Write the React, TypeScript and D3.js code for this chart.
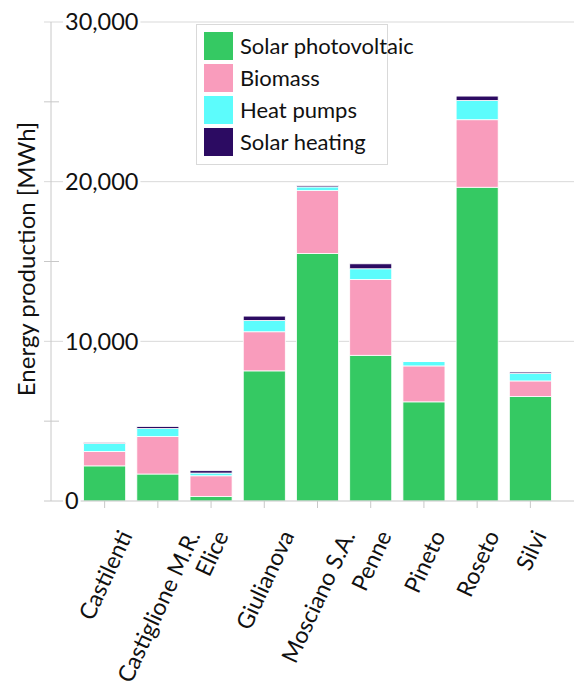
import * as d3 from "d3";
import React from "react";

const towns = [
  "Castilenti",
  "Castiglione M.R.",
  "Elice",
  "Giulianova",
  "Mosciano S.A.",
  "Penne",
  "Pineto",
  "Roseto",
  "Silvi",
];

const seriesNames = ["Solar photovoltaic", "Biomass", "Heat pumps", "Solar heating"];
const seriesColors = ["#35C963", "#F99CBC", "#5CFCFC", "#2C0B62"];

// MWh per town
const solarPv = [2200, 1690, 290, 8150, 15500, 9125, 6210, 19650, 6540];
const biomass = [900, 2350, 1290, 2450, 3940, 4750, 2250, 4230, 980];
const heatPumps = [500, 500, 170, 710, 230, 670, 270, 1210, 480];
const solarHeating = [70, 125, 150, 270, 80, 310, 30, 270, 80];

const majorTicks = [0, 10000, 20000, 30000];
const minorTicks = [5000, 15000, 25000];

const W = 574;
const H = 683;
const FONT = "Lato, 'Noto Sans', sans-serif";

const App = (): React.ReactElement => {
  const chartRef = React.useRef<SVGSVGElement>(null);

  React.useEffect(() => {
    const svg = d3.select(chartRef.current);
    svg.selectAll("*").remove();

    const left = 51;
    const right = W;
    const top = 22;
    const bottom = 501;

    const x = d3.scaleBand<string>().domain(towns).range([57, 578]).paddingInner(0.21).paddingOuter(0.5);
    const y = d3.scaleLinear().domain([0, 30000]).range([bottom, top]);

    const rows = towns.map((t, i) => ({
      town: t,
      "Solar photovoltaic": solarPv[i],
      Biomass: biomass[i],
      "Heat pumps": heatPumps[i],
      "Solar heating": solarHeating[i],
    }));
    const stacked = d3.stack<any>().keys(seriesNames)(rows);

    // gridlines
    svg
      .append("g")
      .selectAll("line")
      .data(majorTicks.slice(1))
      .join("line")
      .attr("x1", 44)
      .attr("x2", right)
      .attr("y1", (d) => y(d))
      .attr("y2", (d) => y(d))
      .attr("stroke", "#d9d9d9")
      .attr("stroke-width", 1);

    // y axis line + minor ticks
    svg.append("line").attr("x1", left).attr("x2", left).attr("y1", top).attr("y2", bottom).attr("stroke", "#c8c8c8");
    svg
      .append("g")
      .selectAll("line")
      .data(minorTicks)
      .join("line")
      .attr("x1", 44)
      .attr("x2", 59)
      .attr("y1", (d) => y(d))
      .attr("y2", (d) => y(d))
      .attr("stroke", "#c8c8c8");

    // bars
    svg
      .append("g")
      .selectAll("g")
      .data(stacked)
      .join("g")
      .attr("fill", (_, i) => seriesColors[i])
      .selectAll("rect")
      .data((d) => d)
      .join("rect")
      .attr("x", (d: any) => x(d.data.town) as number)
      .attr("width", x.bandwidth())
      .attr("y", (d) => y(d[1]))
      .attr("height", (d) => y(d[0]) - y(d[1]))
      .attr("stroke", "#fff")
      .attr("stroke-width", 0.8);

    // x axis
    svg.append("line").attr("x1", 44).attr("x2", right).attr("y1", bottom).attr("y2", bottom).attr("stroke", "#c8c8c8");
    svg
      .append("g")
      .selectAll("line")
      .data(towns)
      .join("line")
      .attr("x1", (d) => (x(d) as number) + x.bandwidth() / 2)
      .attr("x2", (d) => (x(d) as number) + x.bandwidth() / 2)
      .attr("y1", bottom)
      .attr("y2", bottom + 7)
      .attr("stroke", "#c8c8c8");

    // y tick labels with white boxes
    const yl = svg.append("g");
    majorTicks.forEach((v) => {
      const g = yl.append("g");
      const t = g
        .append("text")
        .attr("x", 65)
        .attr("y", y(v))
        .attr("dy", "0.36em")
        .attr("font-family", FONT)
        .attr("font-size", 23.5)
        .attr("fill", "#111")
        .text(d3.format(",")(v));
      const bb = (t.node() as SVGTextElement).getBBox();
      g.insert("rect", "text")
        .attr("x", bb.x - 2)
        .attr("y", bb.y + 2)
        .attr("width", bb.width + 4)
        .attr("height", bb.height - 4)
        .attr("fill", "#fff");
    });

    // x labels, rotated, bbox centred on tick with top at 528
    const ang = 65;
    const rad = (ang * Math.PI) / 180;
    const xl = svg.append("g");
    towns.forEach((t) => {
      const cx = (x(t) as number) + x.bandwidth() / 2;
      const txt = xl
        .append("text")
        .attr("text-anchor", "middle")
        .attr("dominant-baseline", "central")
        .attr("font-family", FONT)
        .attr("font-size", 23)
        .attr("fill", "#111")
        .text(t);
      const L = (txt.node() as SVGTextElement).getComputedTextLength();
      const h = 17;
      const cy = 528 + (L / 2) * Math.sin(rad) + (h / 2) * Math.cos(rad);
      txt.attr("transform", `translate(${cx},${cy}) rotate(${-ang})`);
    });

    // y title
    svg
      .append("text")
      .attr("transform", `translate(35,259) rotate(-90)`)
      .attr("text-anchor", "middle")
      .attr("font-family", FONT)
      .attr("font-size", 24)
      .attr("fill", "#111")
      .text("Energy production [MWh]");

    // legend
    const lg = svg.append("g");
    lg.append("rect")
      .attr("x", 196.5)
      .attr("y", 24.5)
      .attr("width", 191)
      .attr("height", 140)
      .attr("fill", "#fff")
      .attr("stroke", "#d9d9d9");
    seriesNames.forEach((s, i) => {
      const ry = 32 + i * 32;
      lg.append("rect").attr("x", 204).attr("y", ry).attr("width", 29).attr("height", 28).attr("fill", seriesColors[i]);
      lg.append("text")
        .attr("x", 240)
        .attr("y", ry + 14)
        .attr("dy", "0.36em")
        .attr("font-family", FONT)
        .attr("font-size", 22)
        .attr("fill", "#111")
        .text(s);
    });
  }, []);

  return (
    <div style={{ position: "absolute", left: 0, top: 0 }}>
      <svg ref={chartRef} width={W} height={H} style={{ display: "block", background: "#fff" }}></svg>
    </div>
  );
};

export default App;
